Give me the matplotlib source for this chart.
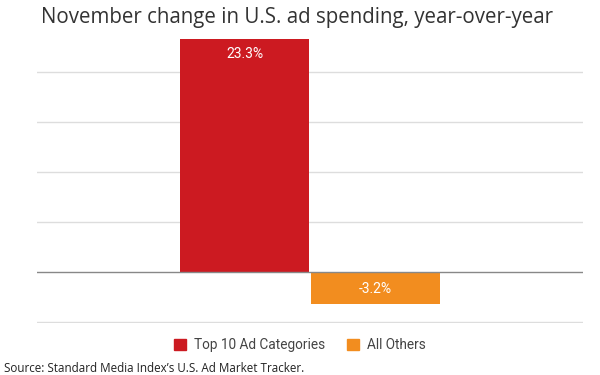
import matplotlib
matplotlib.use("Agg")
import matplotlib.pyplot as plt
from matplotlib.patches import Patch

title = "November change in U.S. ad spending, year-over-year"
series = ["Top 10 Ad Categories", "All Others"]
values = [23.3, -3.2]
labels = ["23.3%", "-3.2%"]
colors = ["#CC1A21", "#F28D1F"]
offsets = [-0.12, 0.12]
grid_vals = [-5, 5, 10, 15, 20]
source = "Source: Standard Media Index\u2019s U.S. Ad Market Tracker."

fig = plt.figure(figsize=(6, 3.75), dpi=100)
ax = fig.add_axes([37/600, 1-323/375, 546/600, 301/375])
ax.set_xlim(-0.5, 0.5)
ax.set_ylim(-5.1, 25)
for g in grid_vals:
    ax.axhline(g, color="#dddddd", lw=1, zorder=0)

width = 0.236
for off, v, c, lab in zip(offsets, values, colors, labels):
    ax.bar(off, v, width=width, color=c, zorder=2)
    dy = -11 if v > 0 else 11
    ax.annotate(lab, (off, v), xytext=(0, dy), textcoords="offset points",
                ha="center", va="center", color="white", fontsize=10,
                family="Roboto", zorder=3)
ax.axhline(0, color="#888888", lw=1, zorder=3)
ax.axis("off")

fig.text(0.495, 1-17/375, title, ha="center", va="center", fontsize=14.8,
         family="Open Sans", color="#333333")

handles = [Patch(color=c, label=s) for c, s in zip(colors, series)]
fig.legend(handles=handles, loc="center", bbox_to_anchor=(0.5, 1-345/375), ncol=2,
           frameon=False, prop={"family": "Roboto", "size": 9.8},
           handlelength=0.9, handleheight=0.9, handletextpad=0.6, columnspacing=1.6,
           labelcolor="#444444")

fig.text(4/600, 1-368/375, source, ha="left", va="center", fontsize=8.4,
         family="Open Sans", color="#222222")

fig.savefig("out.png", dpi=100)
